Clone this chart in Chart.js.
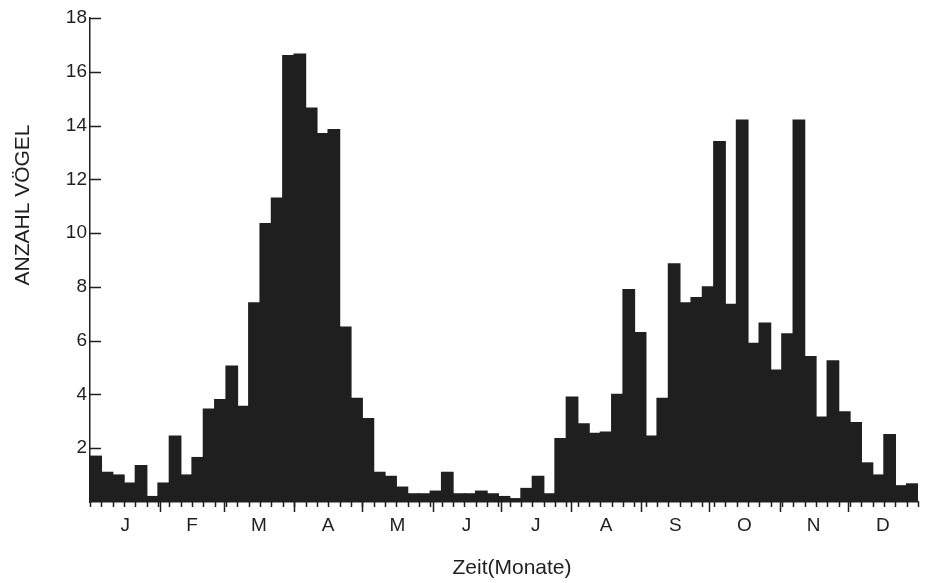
<!DOCTYPE html>
<html>
<head>
<meta charset="utf-8">
<script src="https://cdn.jsdelivr.net/npm/chart.js@4"></script>
<style>
  html, body { margin: 0; padding: 0; background: #fff; }
  #wrap { width: 928px; height: 583px; position: relative; }
</style>
</head>
<body>
<div id="wrap"><canvas id="birdChart"></canvas></div>
<script>
// Anzahl Vögel je Pentade (5-Tage-Abschnitt), 73 Werte
const pentadValues = [
  1.7, 1.1, 1.0, 0.7, 1.35, 0.2, 0.7, 2.45, 1.0, 1.65,
  3.45, 3.8, 5.05, 3.55, 7.4, 10.35, 11.3, 16.6, 16.65, 14.65,
  13.7, 13.85, 6.5, 3.85, 3.1, 1.1, 0.95, 0.55, 0.3, 0.3,
  0.4, 1.1, 0.3, 0.3, 0.4, 0.3, 0.2, 0.12, 0.5, 0.95,
  0.3, 2.35, 3.9, 2.9, 2.55, 2.6, 4.0, 7.9, 6.3, 2.45,
  3.85, 8.85, 7.4, 7.6, 8.0, 13.4, 7.35, 14.2, 5.9, 6.65,
  4.9, 6.25, 14.2, 5.4, 3.15, 5.25, 3.35, 2.95, 1.45, 1.0,
  2.5, 0.6, 0.67
];
const monthLabels = ['J', 'F', 'M', 'A', 'M', 'J', 'J', 'A', 'S', 'O', 'N', 'D'];
const monthDays = [31, 28, 31, 30, 31, 30, 31, 31, 30, 31, 30, 31];
const yTicks = [2, 4, 6, 8, 10, 12, 14, 16, 18];
const pentadLength = 5;

const monthStarts = [];
let acc = 0;
monthDays.forEach(d => { monthStarts.push(acc); acc += d; });
const yearDays = acc;
const monthCenters = monthStarts.map((s, i) => s + monthDays[i] / 2);

const barData = pentadValues.map((v, i) => ({ x: i * pentadLength + pentadLength / 2, y: v }));

const ink = '#1f1f1f';

const axisMarks = {
  id: 'axisMarks',
  afterDraw(chart) {
    const { ctx, chartArea, scales: { x, y } } = chart;
    ctx.save();
    ctx.strokeStyle = ink;
    ctx.lineWidth = 1.5;
    ctx.beginPath();
    // y ticks point into the plot
    yTicks.forEach(t => {
      const py = Math.round(y.getPixelForValue(t)) + 0.5;
      ctx.moveTo(chartArea.left, py);
      ctx.lineTo(chartArea.left + 11, py);
    });
    // short ticks at every pentad boundary
    for (let d = pentadLength; d < yearDays; d += pentadLength) {
      const px = Math.round(x.getPixelForValue(d)) + 0.5;
      ctx.moveTo(px, chartArea.bottom);
      ctx.lineTo(px, chartArea.bottom + 5);
    }
    ctx.stroke();
    // long ticks at month boundaries
    ctx.beginPath();
    monthStarts.concat([yearDays]).forEach(d => {
      const px = Math.round(x.getPixelForValue(d)) + 0.5;
      ctx.moveTo(px, chartArea.bottom);
      ctx.lineTo(px, chartArea.bottom + (d === 0 || d === yearDays ? 5 : 10));
    });
    ctx.stroke();

    // axis titles
    ctx.fillStyle = ink;
    ctx.font = '21px "Liberation Sans", Arial, sans-serif';
    ctx.textAlign = 'center';
    ctx.textBaseline = 'middle';
    ctx.fillText('Zeit(Monate)', 512, 568);
    ctx.translate(23, 205);
    ctx.rotate(-Math.PI / 2);
    ctx.fillText('ANZAHL VÖGEL', 0, 0);
    ctx.restore();
  }
};

new Chart(document.getElementById('birdChart'), {
  type: 'bar',
  data: {
    datasets: [{
      data: barData,
      backgroundColor: ink,
      borderWidth: 0,
      inflateAmount: 0.7,
      barPercentage: 1,
      categoryPercentage: 1
    }]
  },
  options: {
    responsive: true,
    maintainAspectRatio: false,
    animation: false,
    layout: { padding: { top: 18, right: 10, left: 0, bottom: 0 } },
    plugins: { legend: { display: false }, tooltip: { enabled: false } },
    scales: {
      x: {
        type: 'linear',
        min: 0,
        max: yearDays,
        offset: false,
        afterBuildTicks: scale => { scale.ticks = monthCenters.map(v => ({ value: v })); },
        afterFit: scale => { scale.height = 81; },
        grid: { display: true, drawOnChartArea: false, drawTicks: false },
        border: { display: true, color: ink, width: 1.5 },
        ticks: {
          autoSkip: false,
          maxRotation: 0,
          padding: 12,
          color: ink,
          font: { family: '"Liberation Sans", Arial, sans-serif', size: 19 },
          callback: value => monthLabels[monthCenters.indexOf(value)] || ''
        }
      },
      y: {
        min: 0,
        max: 18,
        afterBuildTicks: scale => { scale.ticks = yTicks.map(v => ({ value: v })); },
        afterFit: scale => { scale.width = 90; },
        grid: { display: true, drawOnChartArea: false, drawTicks: false },
        border: { display: true, color: ink, width: 1.5 },
        ticks: {
          padding: 3,
          color: ink,
          font: { family: '"Liberation Sans", Arial, sans-serif', size: 19 }
        }
      }
    }
  },
  plugins: [axisMarks]
});
</script>
</body>
</html>
